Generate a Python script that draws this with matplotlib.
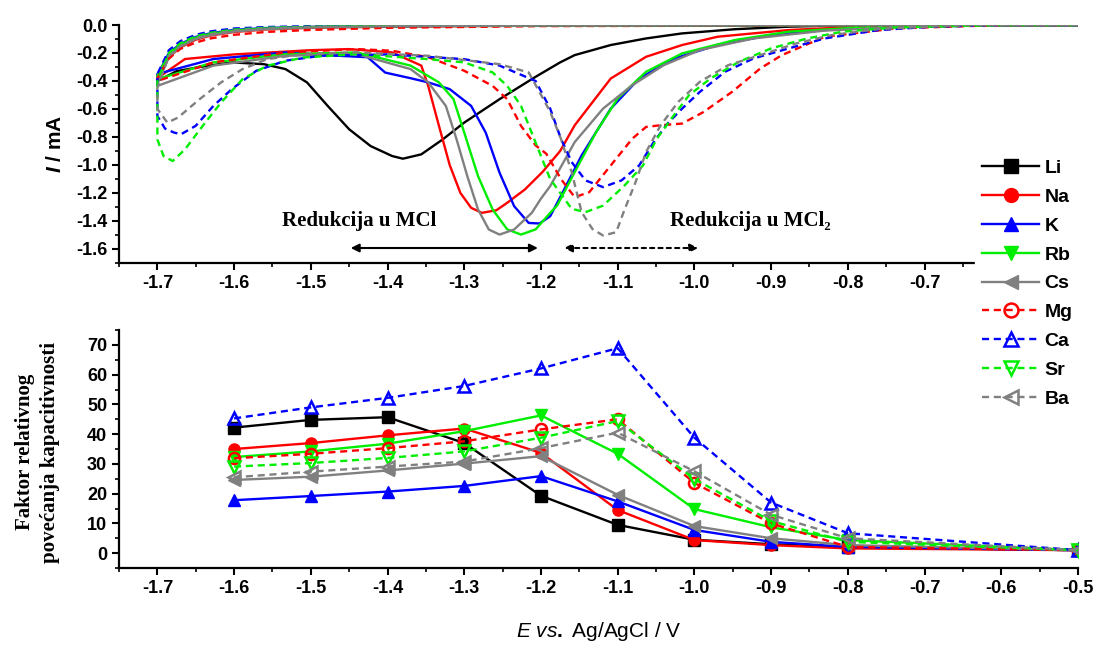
import matplotlib
matplotlib.use("Agg")
import matplotlib.pyplot as plt
import matplotlib.ticker as ticker

# ---- top panel: cyclic voltammograms (I / mA vs E / V) ----
top_x = [-0.5, -1.2, -1.4, -1.5, -1.56, -1.6, -1.63, -1.65, -1.67, -1.685, -1.7]
li_top = [0, -0.003, -0.008, -0.015, -0.025, -0.04, -0.065, -0.095, -0.15, -0.22, -0.38]
na_top = [0, -0.005, -0.012, -0.02, -0.032, -0.05, -0.075, -0.105, -0.16, -0.23, -0.37]
k_top = [0, -0.003, -0.008, -0.014, -0.022, -0.035, -0.058, -0.085, -0.135, -0.2, -0.36]
rb_top = [0, -0.003, -0.008, -0.015, -0.025, -0.04, -0.062, -0.09, -0.14, -0.21, -0.36]
cs_top = [0, -0.004, -0.01, -0.018, -0.03, -0.047, -0.072, -0.1, -0.155, -0.23, -0.42]
mg_top = [0, -0.008, -0.02, -0.035, -0.05, -0.07, -0.095, -0.125, -0.17, -0.24, -0.38]
ca_top = [0, 0, -0.003, -0.008, -0.015, -0.025, -0.045, -0.07, -0.115, -0.18, -0.35]
sr_top = [0, -0.002, -0.006, -0.012, -0.02, -0.033, -0.055, -0.08, -0.13, -0.2, -0.40]
ba_top = [0, -0.003, -0.008, -0.015, -0.025, -0.04, -0.065, -0.095, -0.15, -0.22, -0.45]

li_x = [-1.7, -1.675, -1.645, -1.603, -1.561, -1.533, -1.505, -1.478, -1.45, -1.422, -1.394, -1.38,
        -1.356, -1.328, -1.30, -1.254, -1.207, -1.175, -1.156, -1.109, -1.063, -1.016, -0.947, -0.877,
        -0.784, -0.65, -0.5]
li_y = [-0.40, -0.33, -0.30, -0.267, -0.28, -0.315, -0.41, -0.578, -0.745, -0.865, -0.936, -0.955,
        -0.924, -0.817, -0.697, -0.53, -0.37, -0.267, -0.215, -0.143, -0.096, -0.06, -0.03, -0.012,
        0, 0, 0]
na_x = [-1.7, -1.664, -1.6, -1.5, -1.45, -1.394, -1.356, -1.347, -1.333, -1.319, -1.305, -1.291,
        -1.277, -1.258, -1.244, -1.221, -1.198, -1.175, -1.156, -1.109, -1.063, -1.016, -0.97, -0.877,
        -0.784, -0.65, -0.5]
na_y = [-0.38, -0.243, -0.21, -0.18, -0.172, -0.196, -0.29, -0.435, -0.72, -1.0, -1.2, -1.306,
        -1.342, -1.323, -1.27, -1.175, -1.05, -0.90, -0.716, -0.382, -0.227, -0.143, -0.084, -0.036,
        -0.012, 0, 0]
k_x = [-1.7, -1.627, -1.533, -1.464, -1.426, -1.403, -1.37, -1.347, -1.319, -1.291, -1.272, -1.254,
       -1.235, -1.216, -1.202, -1.188, -1.174, -1.147, -1.109, -1.072, -1.026, -0.97, -0.9, -0.83,
       -0.737, -0.6, -0.5]
k_y = [-0.35, -0.243, -0.196, -0.22, -0.23, -0.34, -0.38, -0.41, -0.458, -0.578, -0.769, -1.055,
       -1.294, -1.414, -1.418, -1.366, -1.22, -0.931, -0.597, -0.382, -0.239, -0.143, -0.072, -0.036,
       -0.012, 0, 0]
rb_x = [-1.7, -1.627, -1.533, -1.44, -1.37, -1.333, -1.314, -1.3, -1.282, -1.263, -1.244, -1.226,
        -1.207, -1.188, -1.179, -1.156, -1.128, -1.1, -1.063, -1.016, -0.947, -0.877, -0.784, -0.65, -0.5]
rb_y = [-0.387, -0.267, -0.208, -0.196, -0.29, -0.41, -0.53, -0.769, -1.08, -1.318, -1.46, -1.497,
        -1.46, -1.342, -1.29, -1.05, -0.764, -0.525, -0.334, -0.203, -0.107, -0.048, -0.017, 0, 0]
cs_x = [-1.7, -1.627, -1.533, -1.44, -1.37, -1.347, -1.324, -1.31, -1.296, -1.282, -1.268, -1.254,
        -1.235, -1.212, -1.2, -1.188, -1.156, -1.119, -1.081, -1.04, -0.993, -0.923, -0.83, -0.737,
        -0.6, -0.5]
cs_y = [-0.435, -0.29, -0.22, -0.208, -0.315, -0.41, -0.578, -0.817, -1.08, -1.318, -1.461, -1.497,
        -1.461, -1.342, -1.24, -1.151, -0.836, -0.597, -0.43, -0.287, -0.179, -0.096, -0.04, -0.017,
        0, 0]
mg_x = [-1.7, -1.627, -1.533, -1.44, -1.394, -1.347, -1.3, -1.263, -1.244, -1.226, -1.207, -1.193,
        -1.174, -1.156, -1.137, -1.109, -1.081, -1.063, -1.044, -1.016, -0.988, -0.951, -0.914,
        -0.886, -0.83, -0.737, -0.6, -0.5]
mg_y = [-0.40, -0.267, -0.196, -0.172, -0.184, -0.23, -0.327, -0.435, -0.53, -0.721, -0.86, -0.92,
        -1.1, -1.23, -1.194, -1.003, -0.812, -0.728, -0.716, -0.704, -0.621, -0.478, -0.31, -0.215,
        -0.084, -0.024, 0, 0]
ca_x = [-1.7, -1.69, -1.678, -1.669, -1.65, -1.627, -1.603, -1.571, -1.533, -1.487, -1.4, -1.3,
        -1.254, -1.207, -1.188, -1.174, -1.16, -1.142, -1.119, -1.095, -1.072, -1.053, -1.035, -1.016,
        -0.993, -0.96, -0.923, -0.877, -0.83, -0.76, -0.69, -0.6, -0.5]
ca_y = [-0.65, -0.74, -0.769, -0.78, -0.72, -0.578, -0.458, -0.327, -0.255, -0.22, -0.21, -0.244,
        -0.29, -0.40, -0.597, -0.812, -0.979, -1.11, -1.158, -1.11, -1.003, -0.836, -0.704, -0.597,
        -0.478, -0.334, -0.239, -0.167, -0.096, -0.036, -0.012, 0, 0]
sr_x = [-1.7, -1.692, -1.68, -1.664, -1.641, -1.617, -1.589, -1.557, -1.51, -1.44, -1.347, -1.3,
        -1.263, -1.244, -1.226, -1.207, -1.188, -1.16, -1.142, -1.119, -1.091, -1.067, -1.049, -1.03,
        -1.007, -0.979, -0.942, -0.9, -0.853, -0.807, -0.737, -0.6, -0.5]
sr_y = [-0.817, -0.936, -0.972, -0.888, -0.721, -0.554, -0.387, -0.291, -0.232, -0.208, -0.244,
        -0.267, -0.339, -0.435, -0.578, -0.84, -1.1, -1.313, -1.337, -1.29, -1.146, -1.003, -0.812,
        -0.669, -0.501, -0.382, -0.263, -0.167, -0.096, -0.048, -0.017, 0, 0]
ba_x = [-1.7, -1.687, -1.673, -1.645, -1.617, -1.589, -1.557, -1.51, -1.44, -1.347, -1.254, -1.216,
        -1.202, -1.188, -1.174, -1.16, -1.147, -1.133, -1.119, -1.102, -1.091, -1.077, -1.063, -1.044,
        -1.021, -0.993, -0.956, -0.914, -0.867, -0.821, -0.76, -0.65, -0.5]
ba_y = [-0.6, -0.697, -0.661, -0.53, -0.41, -0.315, -0.244, -0.208, -0.196, -0.22, -0.28, -0.339,
        -0.478, -0.62, -0.812, -1.05, -1.337, -1.457, -1.504, -1.48, -1.318, -1.127, -0.907, -0.716,
        -0.549, -0.406, -0.287, -0.215, -0.131, -0.072, -0.029, 0, 0]

# ---- bottom panel: relative capacitance increase factor ----
e_pts = [-1.6, -1.5, -1.4, -1.3, -1.2, -1.1, -1.0, -0.9, -0.8, -0.5]
li_f = [42.2, 44.8, 45.7, 37.0, 19.3, 9.5, 4.5, 3.0, 2.0, 1.0]
na_f = [35.0, 37.0, 39.6, 41.9, 33.7, 14.5, 4.4, 2.7, 1.6, 1.0]
k_f = [17.8, 19.2, 20.7, 22.6, 25.9, 17.4, 7.8, 3.8, 2.1, 1.0]
rb_f = [32.3, 34.2, 36.8, 41.0, 46.3, 33.4, 14.8, 8.7, 4.4, 1.0]
cs_f = [24.6, 25.7, 27.8, 30.1, 32.6, 19.6, 9.1, 5.0, 2.7, 1.0]
mg_f = [31.9, 33.4, 35.3, 37.6, 41.6, 45.0, 23.6, 10.0, 2.1, 1.0]
ca_f = [45.3, 49.0, 52.2, 56.2, 62.1, 68.9, 38.8, 17.0, 6.7, 1.0]
sr_f = [29.1, 30.3, 32.0, 34.2, 38.8, 44.4, 24.9, 10.8, 3.8, 1.0]
ba_f = [25.5, 27.4, 29.1, 30.8, 35.3, 40.5, 27.5, 12.9, 5.0, 1.0]

names = ['Li', 'Na', 'K', 'Rb', 'Cs', 'Mg', 'Ca', 'Sr', 'Ba']
colors = ['black', 'red', 'blue', '#00ee00', 'gray', 'red', 'blue', '#00ee00', 'gray']
markers = ['s', 'o', '^', 'v', '<', 'o', '^', 'v', '<']
cv_x = [li_x, na_x, k_x, rb_x, cs_x, mg_x, ca_x, sr_x, ba_x]
cv_y = [li_y, na_y, k_y, rb_y, cs_y, mg_y, ca_y, sr_y, ba_y]
cv_top = [li_top, na_top, k_top, rb_top, cs_top, mg_top, ca_top, sr_top, ba_top]
factors = [li_f, na_f, k_f, rb_f, cs_f, mg_f, ca_f, sr_f, ba_f]

plt.rcParams['font.family'] = ['Liberation Sans', 'DejaVu Sans']
plt.rcParams['font.weight'] = 'bold'
plt.rcParams['mathtext.fontset'] = 'custom'
plt.rcParams['mathtext.it'] = 'Liberation Sans:italic:normal'
plt.rcParams['mathtext.bfit'] = 'Liberation Sans:italic:bold'
plt.rcParams['mathtext.bf'] = 'Liberation Sans:bold'
plt.rcParams['mathtext.rm'] = 'Liberation Sans'

fig = plt.figure(figsize=(10.99, 6.46), dpi=100)
ax1 = fig.add_axes([0.1083, 0.5929, 0.8726, 0.3684])
ax2 = fig.add_axes([0.1083, 0.1207, 0.8726, 0.3684])

for i in range(9):
    ls = '-' if i < 5 else (0, (3, 2))
    ax1.plot(top_x + cv_x[i], cv_top[i] + cv_y[i], color=colors[i], lw=1.7, ls=ls)

handles = []
for i in range(9):
    dashed = i >= 5
    ls = (0, (3, 2)) if dashed else '-'
    h, = ax2.plot(e_pts, factors[i], color=colors[i], lw=1.7, ls=ls, marker=markers[i],
                  ms=8, mfc='none' if dashed else colors[i], mec=colors[i],
                  mew=1.8 if dashed else 1.0, label=names[i])
    handles.append(h)

for ax in (ax1, ax2):
    ax.set_xlim(-1.75, -0.5)
    ax.spines['top'].set_visible(False)
    ax.spines['right'].set_visible(False)
    ax.spines['left'].set_linewidth(1.6)
    ax.spines['bottom'].set_linewidth(1.6)
    ax.xaxis.set_major_locator(ticker.MultipleLocator(0.1))
    ax.xaxis.set_minor_locator(ticker.MultipleLocator(0.05))
    ax.tick_params(which='major', length=5, width=1.5, labelsize=13)
    ax.tick_params(which='minor', length=3, width=1.2)

ax2.xaxis.set_major_formatter(ticker.FormatStrFormatter('%.1f'))
# the legend hides the last two labels of the upper panel
ax1.xaxis.set_major_formatter(ticker.FuncFormatter(lambda v, p: '' if v > -0.65 else '%.1f' % v))

ax1.set_ylim(-1.7, 0.0)
ax1.yaxis.set_major_locator(ticker.MultipleLocator(0.2))
ax1.yaxis.set_minor_locator(ticker.MultipleLocator(0.1))
ax1.yaxis.set_major_formatter(ticker.FormatStrFormatter('%.1f'))
ax1.set_ylabel(r'$\mathbfit{I}$ / mA', fontsize=15, fontweight='bold', labelpad=8)

ax2.set_ylim(-5, 75)
ax2.yaxis.set_major_locator(ticker.MultipleLocator(10))
ax2.yaxis.set_minor_locator(ticker.MultipleLocator(5))

fig.text(0.034, 0.30, 'Faktor relativnog\npovećanja kapacitivnosti', rotation=90,
         ha='center', va='center', fontsize=15, family='Liberation Serif',
         fontweight='bold', linespacing=1.3)
fig.text(0.545, 0.022, r'$\mathit{E\ vs.}$ Ag/AgCl / V', ha='center', va='center',
         fontsize=15, fontweight='normal')

serif = ['Liberation Serif', 'DejaVu Serif']
ax1.text(-1.437, -1.40, 'Redukcija u MCl', family=serif, fontweight='bold',
         fontsize=15, ha='center', va='center')
ax1.text(-0.927, -1.40, 'Redukcija u MCl\u2082', family=serif, fontweight='bold',
         fontsize=15, ha='center', va='center')
ax1.annotate('', xy=(-1.448, -1.593), xytext=(-1.204, -1.593),
             arrowprops=dict(arrowstyle='<|-|>', color='black', lw=1.5,
                             mutation_scale=12, shrinkA=0, shrinkB=0))
ax1.annotate('', xy=(-1.17, -1.593), xytext=(-0.995, -1.593),
             arrowprops=dict(arrowstyle='<|-|>', color='black', lw=1.5, ls=(0, (2, 2)),
                             mutation_scale=12, shrinkA=0, shrinkB=0))

leg = fig.legend(handles=handles, loc='center left', bbox_to_anchor=(0.878, 0.561),
                 fontsize=14, frameon=True, facecolor='white', edgecolor='white',
                 framealpha=1, fancybox=False, handlelength=2.9, labelspacing=0.58,
                 borderpad=0.4, handletextpad=0.3, markerscale=1.25)

plt.savefig('out.png', dpi=100)
